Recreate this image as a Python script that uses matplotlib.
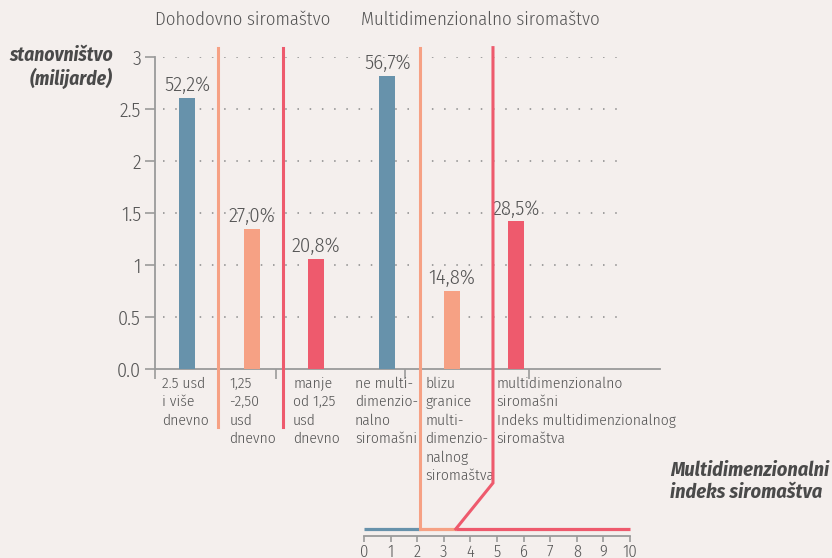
import matplotlib
matplotlib.use("Agg")
import matplotlib.pyplot as plt
from matplotlib.lines import Line2D
import numpy as np

# ---------------- data ----------------
categories = ["2.5 usd\ni više\ndnevno", "1,25\n-2,50\nusd\ndnevno", "manje\nod 1,25\nusd\ndnevno",
              "ne multi-\ndimenzio-\nnalno\nsiromašni", "blizu\ngranice\nmulti-\ndimenzio-\nnalnog\nsiromaštva",
              "multidimenzionalno\nsiromašni\nIndeks multidimenzionalnog\nsiromaštva"]
values = [2.61, 1.35, 1.06, 2.82, 0.75, 1.42]
pct_labels = ["52,2%", "27,0%", "20,8%", "56,7%", "14,8%", "28,5%"]
group_titles = ["Dohodovno siromaštvo", "Multidimenzionalno siromaštvo"]
ytick_vals = [0, 0.5, 1, 1.5, 2, 2.5, 3]
ytick_labels = ["0.0", "0.5", "1", "1.5", "2", "2.5", "3"]
index_ticks = list(range(0, 11))
index_bounds = [0, 2.1, 3.45, 10]   # MPI scale segments

# ---------------- style ----------------
BG = "#f4efed"
BLUE = "#6792ab"
ORANGE = "#f6a184"
RED = "#ee5a6d"
TXT = "#555555"
AX = "#9a9a9a"
bar_colors = [BLUE, ORANGE, RED, BLUE, ORANGE, RED]
seg_colors = [BLUE, ORANGE, RED]
FONT = ["Fira Sans Condensed", "DejaVu Sans"]
plt.rcParams["font.family"] = FONT
plt.rcParams["font.weight"] = 300

W, H = 832, 558
fig = plt.figure(figsize=(W / 100, H / 100), dpi=100, facecolor=BG)

def px(x0, y0, w, h):
    return [x0 / W, 1 - (y0 + h) / H, w / W, h / H]

# main axes: x from 155px to 660px, y 0..3 between 369px and 57px
ax = fig.add_axes(px(155, 57, 505, 312))
ax.set_facecolor("none")
ax.set_xlim(0, 505 / 64.5)
ax.set_ylim(0, 3)

positions = [0.5, 1.5, 2.5, 3.6, 4.6, 5.6]
ax.bar(positions, values, width=0.25, color=bar_colors, zorder=3)

for p, v, t in zip(positions, values, pct_labels):
    ax.text(p, v + 0.025, t, ha="center", va="bottom", fontsize=15, color=TXT)

# grid
ax.hlines(ytick_vals[1:], 0.12, 7.32, colors="#8a8a8a", linewidth=1.1,
          linestyles=(0, (1, 7)), zorder=1)

for s in ["top", "right"]:
    ax.spines[s].set_visible(False)
ax.spines["left"].set_color(AX)
ax.spines["bottom"].set_color(AX)
ax.spines["left"].set_linewidth(1.3)
ax.spines["bottom"].set_linewidth(1.3)
ax.set_yticks(ytick_vals)
ax.set_yticklabels(ytick_labels)
ax.tick_params(axis="y", length=7, width=1.2, color=AX, labelsize=14.5, labelcolor=TXT, pad=3)
ax.set_xticks([0, 1.876, 3.876, 5.8])
ax.set_xticklabels([])
ax.tick_params(axis="x", length=7, width=1.2, color=AX, direction="out")

# category labels under axis
label_x = [0.11, 1.15, 2.14, 3.10, 4.19, 5.30]
for lx, c in zip(label_x, categories):
    ax.text(lx, -0.07, c, ha="left", va="top", fontsize=11.2, color=TXT,
            linespacing=1.38, clip_on=False)

# bottom index axis: 0..10 between 364px and 630px
ax2 = fig.add_axes(px(364, 522, 266, 14))
ax2.set_facecolor("none")
ax2.set_xlim(0, 10)
ax2.set_ylim(-1, 1)
for i in range(3):
    ax2.plot([index_bounds[i], index_bounds[i + 1]], [0, 0], color=seg_colors[i],
             linewidth=2.3, solid_capstyle="butt", clip_on=False, zorder=3)
for s in ["top", "right", "left"]:
    ax2.spines[s].set_visible(False)
ax2.spines["bottom"].set_color(AX)
ax2.spines["bottom"].set_linewidth(1.3)
ax2.set_yticks([])
ax2.set_xticks(index_ticks)
ax2.set_xticklabels([str(t) for t in index_ticks])
ax2.tick_params(axis="x", length=4, width=1.2, color=AX, labelsize=12, labelcolor=TXT, pad=2)

# separator lines (drawn in figure coordinates)
inv = fig.transFigure.inverted()
def fpt(axis, x, y):
    return inv.transform(axis.transData.transform((x, y)))

def fig_line(pts, color):
    xs = [p[0] for p in pts]
    ys = [p[1] for p in pts]
    fig.add_artist(Line2D(xs, ys, transform=fig.transFigure, color=color,
                          linewidth=2.2, solid_joinstyle="miter"))

top_y = 3.09
fig_line([fpt(ax, 0.977, top_y), fpt(ax, 0.977, -0.56)], ORANGE)
fig_line([fpt(ax, 1.98, top_y), fpt(ax, 1.98, -0.56)], RED)
# orange boundary at index 2.1
bx = fpt(ax2, index_bounds[1], 0)
ty = fpt(ax, 0, top_y)[1]
fig_line([(bx[0], ty), bx], ORANGE)
# red boundary going to index 3.45
rtop = fpt(ax, 5.24, top_y)
rmid = fpt(ax, 5.24, -1.096)
fig_line([rtop, rmid, fpt(ax2, index_bounds[2], 0)], RED)

# titles
fig.text(243 / W, 1 - 20 / H, group_titles[0], ha="center", va="center", fontsize=13.5, color=TXT)
fig.text(480 / W, 1 - 20 / H, group_titles[1], ha="center", va="center", fontsize=13.5, color=TXT)

fig.text(113 / W, 1 - 67 / H, "stanovništvo\n(milijarde)", ha="right", va="center",
         fontsize=14, color="#4a4a4a", fontweight="bold", fontstyle="italic", linespacing=1.15)
fig.text(670 / W, 1 - 481 / H, "Multidimenzionalni\nindeks siromaštva", ha="left", va="center",
         fontsize=14.5, color="#4a4a4a", fontweight="bold", fontstyle="italic", linespacing=1.15)

fig.savefig("out.png", dpi=100, facecolor=BG)
